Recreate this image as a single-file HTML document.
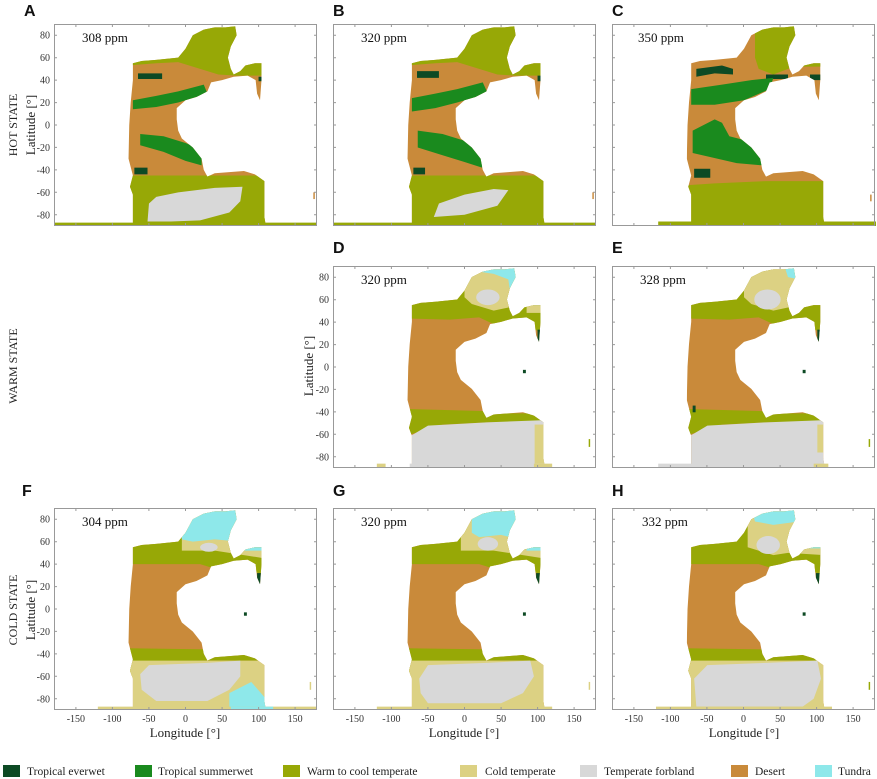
<!DOCTYPE html>
<html><head><meta charset="utf-8"><style>
html,body{margin:0;padding:0;background:#fff;}
svg{display:block}
.t{font-family:"Liberation Serif",serif;font-size:10px;fill:#333}
.lab{font-family:"Liberation Serif",serif;font-size:13px;fill:#222}
.ppm{font-family:"Liberation Serif",serif;font-size:13px;fill:#111}
.L{font-family:"Liberation Sans",sans-serif;font-size:16px;font-weight:bold;fill:#111}
.st{font-family:"Liberation Serif",serif;font-size:12px;fill:#222}
.lg{font-family:"Liberation Serif",serif;font-size:11.5px;fill:#222}
</style></head><body>
<svg width="877" height="779" viewBox="0 0 877 779" xmlns="http://www.w3.org/2000/svg">
<defs>
<clipPath id="land"><polygon points="-72,-55 -60,-57 -40,-58 -10,-60 0,-68 10,-80 25,-85 40,-87 55,-87 68,-88 70,-80 62,-70 58,-60 62,-50 66,-45 75,-48 82,-53 95,-55 104,-55 104,-40 102,-22 98,-28 96,-40 85,-44 66,-43 50,-40 35,-38 30,-30 15,-25 0,-22 -12,-15 -12,-5 -10,5 -5,12 10,20 22,30 25,40 30,46 40,43 60,42 80,41 95,44 108,50 108,82 110,90 -72,90 -72,62 -76,55 -72,45 -78,30 -77,0 -75,-20 -72,-40"/></clipPath>
<g id="tk" stroke="#999" stroke-width="1" fill="none">
<rect x="0.5" y="0.5" width="262" height="201"/>
<path d="M0,11.2h3M0,33.7h3M0,56.1h3M0,78.6h3M0,101h3M0,123.4h3M0,145.9h3M0,168.3h3M0,190.8h3M263,11.2h-3M263,33.7h-3M263,56.1h-3M263,78.6h-3M263,101h-3M263,123.4h-3M263,145.9h-3M263,168.3h-3M263,190.8h-3M21.9,0v3M58.4,0v3M94.9,0v3M131.5,0v3M168.1,0v3M204.6,0v3M241.1,0v3M21.9,202v-3M58.4,202v-3M94.9,202v-3M131.5,202v-3M168.1,202v-3M204.6,202v-3M241.1,202v-3"/>
</g>
</defs>

<!-- Panel A -->
<svg x="54" y="24" width="263" height="202" viewBox="-180 -90 360 180" preserveAspectRatio="none">
<g clip-path="url(#land)">
<rect x="-180" y="-90" width="360" height="180" fill="#c98a3a"/>
<polygon fill="#97a806" points="-80,-90 110,-90 110,-44 70,-44 45,-45 20,-50 -10,-56 -40,-55 -80,-53"/>
<rect x="-65" y="-46" width="33" height="5" fill="#0d4a24"/>
<rect x="100" y="-43" width="5" height="4" fill="#0d4a24"/>
<polygon fill="#1a8a1e" points="-72,-22 -40,-26 -10,-30 25,-36 30,-28 -10,-20 -40,-16 -72,-14"/>
<polygon fill="#1a8a1e" points="-62,8 -30,10 0,16 22,22 22,36 0,32 -30,24 -62,18"/>
<rect x="-70" y="38" width="18" height="6" fill="#0d4a24"/>
<rect x="-180" y="45" width="360" height="45" fill="#97a806"/>
<polygon fill="#d8d8d8" points="-52,86 -50,70 -40,64 -10,60 40,56 78,55 75,68 60,78 20,85 -20,86"/>
</g>
<rect x="-180" y="87" width="360" height="3" fill="#97a806"/>
<rect x="175" y="60" width="2" height="6" fill="#c98a3a"/>
</svg>
<use href="#tk" x="54" y="24"/>

<!-- Panel B -->
<svg x="333" y="24" width="263" height="202" viewBox="-180 -90 360 180" preserveAspectRatio="none">
<g clip-path="url(#land)">
<rect x="-180" y="-90" width="360" height="180" fill="#c98a3a"/>
<polygon fill="#97a806" points="-80,-90 110,-90 110,-44 70,-44 45,-45 20,-50 -10,-56 -40,-55 -80,-53"/>
<rect x="-65" y="-48" width="30" height="6" fill="#0d4a24"/>
<rect x="100" y="-44" width="5" height="5" fill="#0d4a24"/>
<polygon fill="#1a8a1e" points="-72,-24 -40,-28 -10,-32 25,-38 32,-28 -10,-20 -40,-15 -72,-12"/>
<polygon fill="#1a8a1e" points="-64,5 -30,8 0,14 24,22 24,38 0,33 -30,27 -64,20"/>
<rect x="-70" y="38" width="16" height="6" fill="#0d4a24"/>
<rect x="-180" y="45" width="360" height="45" fill="#97a806"/>
<polygon fill="#d8d8d8" points="-42,82 -35,70 0,62 40,57 60,58 45,72 0,80"/>
</g>
<rect x="-180" y="87" width="360" height="3" fill="#97a806"/>
<rect x="175" y="60" width="2" height="6" fill="#c98a3a"/>
</svg>
<use href="#tk" x="333" y="24"/>

<!-- Panel C -->
<svg x="612" y="24" width="264" height="202" viewBox="-180 -90 360 180" preserveAspectRatio="none">
<g clip-path="url(#land)">
<rect x="-180" y="-90" width="360" height="180" fill="#c98a3a"/>
<polygon fill="#97a806" points="15,-90 110,-90 110,-52 80,-52 60,-50 40,-45 20,-50 15,-60"/>
<polygon fill="#0d4a24" points="-65,-50 -30,-53 -15,-50 -15,-45 -40,-46 -65,-43"/>
<rect x="30" y="-45" width="30" height="4" fill="#0d4a24"/>
<rect x="90" y="-45" width="15" height="5" fill="#0d4a24"/>
<polygon fill="#1a8a1e" points="-72,-32 -30,-36 10,-40 40,-42 35,-32 0,-22 -40,-18 -72,-18"/>
<polygon fill="#1a8a1e" points="-70,5 -40,-5 -30,-2 -20,10 10,15 25,25 25,36 -10,34 -70,25"/>
<rect x="-68" y="39" width="22" height="8" fill="#0d4a24"/>
<polygon fill="#97a806" points="-180,58 -40,52 30,50 180,50 180,90 -180,90"/>
</g>
<rect x="-117" y="86" width="297" height="4" fill="#97a806"/>
<rect x="172" y="62" width="2" height="6" fill="#c98a3a"/>
</svg>
<use href="#tk" x="612" y="24"/>

<!-- Panel D -->
<svg x="333" y="266" width="263" height="201" viewBox="-180 -90 360 180" preserveAspectRatio="none">
<g clip-path="url(#land)">
<rect x="-180" y="-90" width="360" height="180" fill="#c98a3a"/>
<polygon fill="#97a806" points="-80,-90 110,-90 110,-28 100,-32 70,-40 40,-38 20,-44 -20,-42 -80,-43"/>
<polygon fill="#dcd183" points="0,-90 75,-90 75,-55 40,-50 10,-56 0,-62"/>
<ellipse cx="32" cy="-62" rx="16" ry="7" fill="#d8d8d8"/>
<polygon fill="#8ee8ea" points="20,-90 75,-90 75,-60 64,-60 60,-78 40,-83 20,-85"/>
<rect x="85" y="-56" width="25" height="8" fill="#dcd183"/>
<rect x="90" y="-58" width="15" height="3" fill="#8ee8ea"/>
<rect x="100" y="-33" width="5" height="12" fill="#0d4a24"/>
<polygon fill="#97a806" points="-80,38 30,40 30,50 -30,52 -80,62"/>
<rect x="30" y="42" width="80" height="8" fill="#97a806"/>
<polygon fill="#d8d8d8" points="-80,64 -68,60 -50,53 30,50 110,48 110,90 -80,90"/>
<rect x="96" y="52" width="14" height="35" fill="#dcd183"/>
</g>
<rect x="-120" y="87" width="12" height="3" fill="#dcd183"/>
<rect x="-75" y="87" width="173" height="3" fill="#d8d8d8"/>
<rect x="95" y="87" width="25" height="3" fill="#dcd183"/>
<rect x="80" y="3" width="4" height="3" fill="#0d4a24"/>
<rect x="170" y="65" width="2" height="7" fill="#97a806"/>
</svg>
<use href="#tk" x="333" y="266"/>

<!-- Panel E -->
<svg x="612" y="266" width="264" height="201" viewBox="-180 -90 360 180" preserveAspectRatio="none">
<g clip-path="url(#land)">
<rect x="-180" y="-90" width="360" height="180" fill="#c98a3a"/>
<polygon fill="#97a806" points="-80,-90 110,-90 110,-28 100,-32 70,-40 40,-38 20,-44 -20,-42 -80,-43"/>
<polygon fill="#dcd183" points="0,-90 75,-90 75,-55 40,-50 10,-56 0,-62"/>
<ellipse cx="32" cy="-60" rx="18" ry="9" fill="#d8d8d8"/>
<polygon fill="#8ee8ea" points="55,-90 75,-90 75,-78 60,-80"/>
<rect x="100" y="-33" width="5" height="12" fill="#0d4a24"/>
<polygon fill="#97a806" points="-80,38 30,40 30,50 -30,52 -80,62"/>
<rect x="30" y="42" width="80" height="8" fill="#97a806"/>
<rect x="-70" y="35" width="4" height="6" fill="#0d4a24"/>
<polygon fill="#d8d8d8" points="-80,64 -68,60 -50,53 30,50 110,48 110,90 -80,90"/>
<rect x="100" y="52" width="10" height="25" fill="#dcd183"/>
</g>
<rect x="-117" y="87" width="215" height="3" fill="#d8d8d8"/>
<rect x="95" y="87" width="20" height="3" fill="#dcd183"/>
<rect x="80" y="3" width="4" height="3" fill="#0d4a24"/>
<rect x="170" y="65" width="2" height="7" fill="#97a806"/>
</svg>
<use href="#tk" x="612" y="266"/>

<!-- Panel F -->
<svg x="54" y="508" width="263" height="202" viewBox="-180 -90 360 180" preserveAspectRatio="none">
<g clip-path="url(#land)">
<rect x="-180" y="-90" width="360" height="180" fill="#c98a3a"/>
<polygon fill="#97a806" points="-80,-90 110,-90 110,-28 100,-32 70,-40 40,-36 20,-40 -20,-40 -80,-40"/>
<polygon fill="#dcd183" points="-5,-90 110,-90 110,-45 60,-50 40,-52 -5,-52"/>
<ellipse cx="32" cy="-55" rx="12" ry="4" fill="#d8d8d8"/>
<polygon fill="#8ee8ea" points="-5,-90 75,-90 75,-60 40,-62 10,-60 -5,-62"/>
<rect x="80" y="-58" width="30" height="6" fill="#8ee8ea"/>
<rect x="98" y="-32" width="7" height="10" fill="#0d4a24"/>
<polygon fill="#97a806" points="-80,35 30,36 30,46 -30,47 -80,62"/>
<rect x="30" y="40" width="80" height="6" fill="#97a806"/>
<rect x="-80" y="46" width="190" height="44" fill="#dcd183"/>
<polygon fill="#d8d8d8" points="-62,58 -50,50 30,48 75,46 75,60 60,72 30,82 -40,82 -60,72"/>
<polygon fill="#8ee8ea" points="60,75 90,65 110,80 110,90 60,90"/>
</g>
<rect x="-120" y="87" width="300" height="3" fill="#dcd183"/>
<rect x="62" y="87" width="58" height="3" fill="#8ee8ea"/>
<rect x="80" y="3" width="4" height="3" fill="#0d4a24"/>
<rect x="170" y="65" width="2" height="7" fill="#dcd183"/>
</svg>
<use href="#tk" x="54" y="508"/>

<!-- Panel G -->
<svg x="333" y="508" width="263" height="202" viewBox="-180 -90 360 180" preserveAspectRatio="none">
<g clip-path="url(#land)">
<rect x="-180" y="-90" width="360" height="180" fill="#c98a3a"/>
<polygon fill="#97a806" points="-80,-90 110,-90 110,-28 100,-32 70,-40 40,-36 20,-40 -20,-40 -80,-40"/>
<polygon fill="#dcd183" points="-5,-90 110,-90 110,-45 60,-50 40,-52 -5,-52"/>
<ellipse cx="32" cy="-58" rx="14" ry="6" fill="#d8d8d8"/>
<polygon fill="#8ee8ea" points="10,-90 75,-90 75,-62 50,-66 20,-64 10,-68"/>
<rect x="85" y="-57" width="25" height="5" fill="#8ee8ea"/>
<rect x="98" y="-32" width="7" height="10" fill="#0d4a24"/>
<polygon fill="#97a806" points="-80,35 30,36 30,46 -30,47 -80,62"/>
<rect x="30" y="40" width="80" height="6" fill="#97a806"/>
<rect x="-80" y="46" width="190" height="44" fill="#dcd183"/>
<polygon fill="#d8d8d8" points="-62,62 -50,50 30,48 90,46 95,60 80,75 50,84 -50,84 -60,75"/>
</g>
<rect x="-120" y="87" width="240" height="3" fill="#dcd183"/>
<rect x="80" y="3" width="4" height="3" fill="#0d4a24"/>
<rect x="170" y="65" width="2" height="7" fill="#dcd183"/>
</svg>
<use href="#tk" x="333" y="508"/>

<!-- Panel H -->
<svg x="612" y="508" width="264" height="202" viewBox="-180 -90 360 180" preserveAspectRatio="none">
<g clip-path="url(#land)">
<rect x="-180" y="-90" width="360" height="180" fill="#c98a3a"/>
<polygon fill="#97a806" points="-80,-90 110,-90 110,-28 100,-32 70,-40 40,-36 20,-40 -20,-40 -80,-40"/>
<polygon fill="#dcd183" points="5,-90 110,-90 110,-48 60,-50 40,-48 5,-55"/>
<ellipse cx="33" cy="-57" rx="16" ry="8" fill="#d8d8d8"/>
<polygon fill="#8ee8ea" points="10,-90 75,-90 75,-78 40,-75 15,-78"/>
<rect x="85" y="-57" width="25" height="3" fill="#8ee8ea"/>
<rect x="98" y="-32" width="7" height="10" fill="#0d4a24"/>
<polygon fill="#97a806" points="-80,35 30,36 30,46 -30,47 -80,62"/>
<rect x="30" y="40" width="80" height="6" fill="#97a806"/>
<rect x="-80" y="46" width="190" height="44" fill="#dcd183"/>
<polygon fill="#d8d8d8" points="-68,62 -50,50 30,48 100,46 105,62 95,80 80,87 -65,87"/>
</g>
<rect x="-120" y="87" width="240" height="3" fill="#dcd183"/>
<rect x="80" y="3" width="4" height="3" fill="#0d4a24"/>
<rect x="170" y="65" width="2" height="7" fill="#97a806"/>
</svg>
<use href="#tk" x="612" y="508"/>

<!-- Letters -->
<text class="L" x="24" y="16">A</text>
<text class="L" x="333" y="16">B</text>
<text class="L" x="612" y="16">C</text>
<text class="L" x="333" y="253">D</text>
<text class="L" x="612" y="253">E</text>
<text class="L" x="22" y="496">F</text>
<text class="L" x="333" y="496">G</text>
<text class="L" x="612" y="496">H</text>

<!-- ppm -->
<text class="ppm" x="82" y="42">308 ppm</text>
<text class="ppm" x="361" y="42">320 ppm</text>
<text class="ppm" x="638" y="42">350 ppm</text>
<text class="ppm" x="361" y="284">320 ppm</text>
<text class="ppm" x="640" y="284">328 ppm</text>
<text class="ppm" x="82" y="526">304 ppm</text>
<text class="ppm" x="361" y="526">320 ppm</text>
<text class="ppm" x="642" y="526">332 ppm</text>

<!-- states -->
<text class="st" transform="translate(17,125) rotate(-90)" text-anchor="middle">HOT STATE</text>
<text class="st" transform="translate(17,366) rotate(-90)" text-anchor="middle">WARM STATE</text>
<text class="st" transform="translate(17,610) rotate(-90)" text-anchor="middle">COLD STATE</text>
<text class="lab" transform="translate(35,125) rotate(-90)" text-anchor="middle">Latitude [°]</text>
<text class="lab" transform="translate(313,366) rotate(-90)" text-anchor="middle">Latitude [°]</text>
<text class="lab" transform="translate(35,610) rotate(-90)" text-anchor="middle">Latitude [°]</text>

<!-- y tick labels -->
<g class="t" text-anchor="end">
<text x="50" y="38.7">80</text><text x="50" y="61.2">60</text><text x="50" y="83.6">40</text><text x="50" y="106.1">20</text><text x="50" y="128.5">0</text><text x="50" y="150.9">-20</text><text x="50" y="173.4">-40</text><text x="50" y="195.8">-60</text><text x="50" y="218.3">-80</text>
<text x="329" y="280.7">80</text><text x="329" y="303.2">60</text><text x="329" y="325.6">40</text><text x="329" y="348.1">20</text><text x="329" y="370.5">0</text><text x="329" y="392.9">-20</text><text x="329" y="415.4">-40</text><text x="329" y="437.8">-60</text><text x="329" y="460.3">-80</text>
<text x="50" y="522.7">80</text><text x="50" y="545.2">60</text><text x="50" y="567.6">40</text><text x="50" y="590.1">20</text><text x="50" y="612.5">0</text><text x="50" y="634.9">-20</text><text x="50" y="657.4">-40</text><text x="50" y="679.8">-60</text><text x="50" y="702.3">-80</text>
</g>
<!-- x tick labels -->
<g class="t" text-anchor="middle">
<text x="75.9" y="722">-150</text><text x="112.4" y="722">-100</text><text x="148.9" y="722">-50</text><text x="185.5" y="722">0</text><text x="222.1" y="722">50</text><text x="258.6" y="722">100</text><text x="295.1" y="722">150</text>
<text x="354.9" y="722">-150</text><text x="391.4" y="722">-100</text><text x="427.9" y="722">-50</text><text x="464.5" y="722">0</text><text x="501.1" y="722">50</text><text x="537.6" y="722">100</text><text x="574.1" y="722">150</text>
<text x="633.9" y="722">-150</text><text x="670.4" y="722">-100</text><text x="706.9" y="722">-50</text><text x="743.5" y="722">0</text><text x="780.1" y="722">50</text><text x="816.6" y="722">100</text><text x="853.1" y="722">150</text>
</g>
<g class="lab" text-anchor="middle">
<text x="185" y="737">Longitude [°]</text>
<text x="464" y="737">Longitude [°]</text>
<text x="744" y="737">Longitude [°]</text>
</g>

<!-- legend -->
<rect x="3" y="765" width="17" height="12" fill="#0d4a24"/><text class="lg" x="27" y="775">Tropical everwet</text>
<rect x="135" y="765" width="17" height="12" fill="#1a8a1e"/><text class="lg" x="158" y="775">Tropical summerwet</text>
<rect x="283" y="765" width="17" height="12" fill="#97a806"/><text class="lg" x="307" y="775">Warm to cool temperate</text>
<rect x="460" y="765" width="17" height="12" fill="#dcd183"/><text class="lg" x="485" y="775">Cold temperate</text>
<rect x="580" y="765" width="17" height="12" fill="#d8d8d8"/><text class="lg" x="604" y="775">Temperate forbland</text>
<rect x="731" y="765" width="17" height="12" fill="#c98a3a"/><text class="lg" x="755" y="775">Desert</text>
<rect x="815" y="765" width="17" height="12" fill="#8ee8ea"/><text class="lg" x="838" y="775">Tundra</text>
</svg>
</body></html>
